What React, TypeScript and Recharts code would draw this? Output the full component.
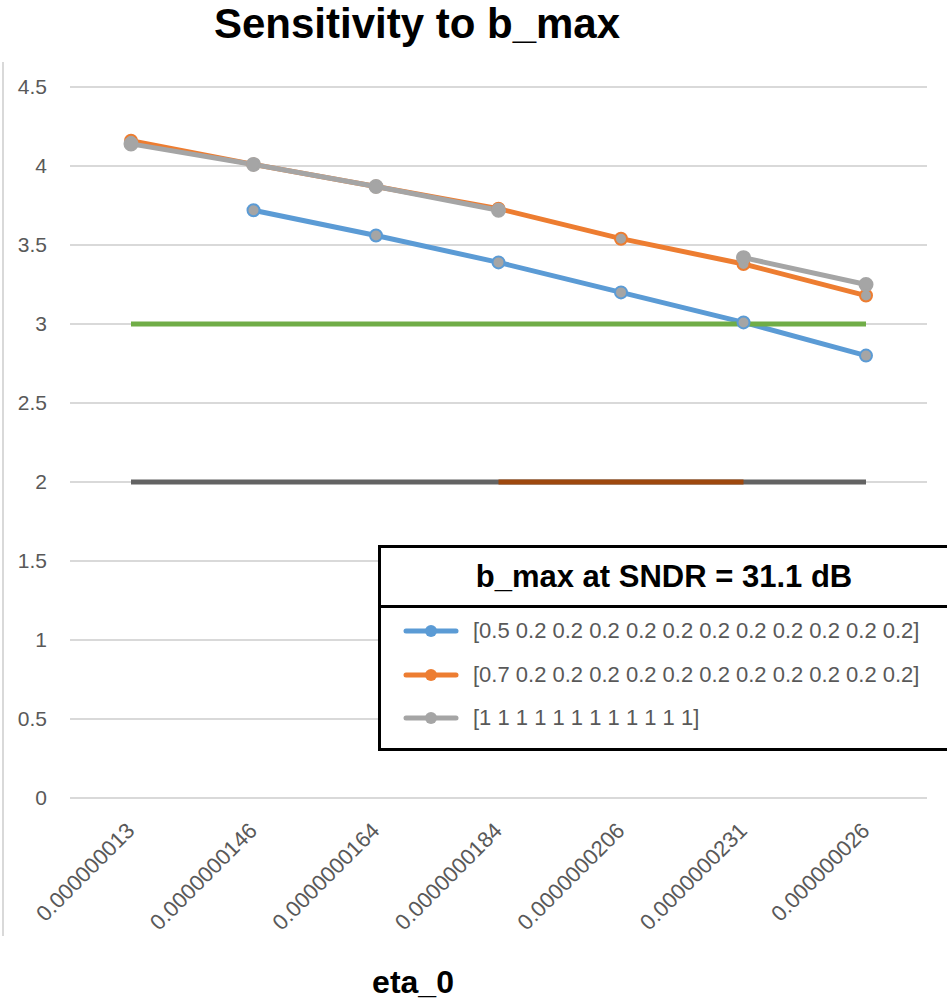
import { CartesianGrid, Line, LineChart, XAxis, YAxis } from "recharts";

const ETA = [
  "0.000000013",
  "0.0000000146",
  "0.0000000164",
  "0.0000000184",
  "0.0000000206",
  "0.0000000231",
  "0.000000026",
];
const B_05 = [null, 3.72, 3.56, 3.39, 3.2, 3.01, 2.8];
const B_07 = [4.16, 4.01, 3.87, 3.73, 3.54, 3.38, 3.18];
const B_1 = [4.14, 4.01, 3.87, 3.72, null, 3.42, 3.25];
const TARGET = [3, 3, 3, 3, 3, 3, 3];
const FLOOR = [2, 2, 2, 2, 2, 2, 2];
const FLOOR_MID = [null, null, null, 2, 2, 2, null];
const Y_TICKS = [0, 0.5, 1, 1.5, 2, 2.5, 3, 3.5, 4, 4.5];
const LEGEND = [
  "[0.5 0.2 0.2 0.2 0.2 0.2 0.2 0.2 0.2 0.2 0.2 0.2]",
  "[0.7 0.2 0.2 0.2 0.2 0.2 0.2 0.2 0.2 0.2 0.2 0.2]",
  "[1 1 1 1 1 1 1 1 1 1 1 1]",
];

const BLUE = "#5b9bd5";
const ORANGE = "#ed7d31";
const GRAY = "#a5a5a5";
const GREEN = "#70ad47";
const DARK = "#636363";
const BROWN = "#9e480e";
const TEXT = "#595959";
const FONT = "'Liberation Sans', Arial, sans-serif";

const data = ETA.map((eta, i) => ({
  eta,
  b05: B_05[i],
  b07: B_07[i],
  b1: B_1[i],
  target: TARGET[i],
  floor: FLOOR[i],
  floorMid: FLOOR_MID[i],
}));

function AngledTick(props: any) {
  const { x, y, payload } = props;
  return (
    <g transform={`translate(${x + 5},${y + 32})`}>
      <text
        textAnchor="end"
        transform="rotate(-45)"
        fill={TEXT}
        fontSize={22}
        fontFamily={FONT}
      >
        {payload.value}
      </text>
    </g>
  );
}

function Swatch({ color }: { color: string }) {
  return (
    <svg width={56} height={16} style={{ display: "block" }}>
      <line x1={3} y1={8} x2={53} y2={8} stroke={color} strokeWidth={5} strokeLinecap="round" />
      <circle cx={28} cy={8} r={6} fill={color} />
    </svg>
  );
}

export default function App() {
  const colors = [BLUE, ORANGE, GRAY];
  return (
    <div
      style={{
        position: "absolute",
        left: 0,
        top: 0,
        width: 947,
        height: 1004,
        background: "#fff",
        fontFamily: FONT,
        overflow: "hidden",
      }}
    >
      <div
        style={{
          position: "absolute",
          left: 2,
          top: 62,
          width: 2,
          height: 874,
          background: "#d9d9d9",
        }}
      />
      <div
        style={{
          position: "absolute",
          left: 0,
          width: 834,
          top: 0,
          textAlign: "center",
          fontSize: 42,
          fontWeight: "bold",
          color: "#000",
        }}
      >
        Sensitivity to b_max
      </div>

      <LineChart
        width={947}
        height={1004}
        data={data}
        margin={{ top: 87, right: 20, left: 10, bottom: 0 }}
      >
        <CartesianGrid stroke="#d9d9d9" strokeWidth={2} vertical={false} />
        <XAxis
          dataKey="eta"
          height={206}
          padding={{ left: 61, right: 61 }}
          axisLine={false}
          tickLine={false}
          tickSize={0}
          interval={0}
          tick={<AngledTick />}
        />
        <YAxis
          width={60}
          domain={[0, 4.5]}
          ticks={Y_TICKS}
          axisLine={false}
          tickLine={false}
          tickSize={0}
          tickMargin={23}
          tick={{ fontSize: 21, fill: TEXT, fontFamily: FONT }}
        />
        <Line
          dataKey="b05"
          stroke={BLUE}
          strokeWidth={5}
          dot={{ r: 6, fill: GRAY, stroke: BLUE, strokeWidth: 2 }}
          isAnimationActive={false}
        />
        <Line
          dataKey="b07"
          stroke={ORANGE}
          strokeWidth={5}
          dot={{ r: 6, fill: GRAY, stroke: ORANGE, strokeWidth: 2 }}
          isAnimationActive={false}
        />
        <Line
          dataKey="b1"
          stroke={GRAY}
          strokeWidth={5}
          dot={{ r: 6.5, fill: GRAY, stroke: GRAY, strokeWidth: 2 }}
          isAnimationActive={false}
        />
        <Line
          dataKey="target"
          stroke={GREEN}
          strokeWidth={5}
          dot={false}
          isAnimationActive={false}
        />
        <Line
          dataKey="floor"
          stroke={DARK}
          strokeWidth={5}
          dot={false}
          isAnimationActive={false}
        />
        <Line
          dataKey="floorMid"
          stroke={BROWN}
          strokeWidth={5}
          dot={false}
          isAnimationActive={false}
        />
      </LineChart>

      <div
        style={{
          position: "absolute",
          left: 0,
          width: 826,
          top: 966,
          lineHeight: 1,
          textAlign: "center",
          fontSize: 32,
          fontWeight: "bold",
          color: "#000",
        }}
      >
        eta_0
      </div>

      <div
        style={{
          position: "absolute",
          left: 378,
          top: 545,
          width: 566,
          height: 200,
          border: "3px solid #000",
          background: "#fff",
        }}
      >
        <div
          style={{
            height: 57,
            borderBottom: "3px solid #000",
            display: "flex",
            alignItems: "center",
            justifyContent: "center",
            fontSize: 31,
            fontWeight: "bold",
            color: "#000",
          }}
        >
          b_max at SNDR = 31.1 dB
        </div>
        {LEGEND.map((label, i) => (
          <div
            key={label}
            style={{
              position: "absolute",
              left: 22,
              top: 70 + i * 43.5,
              display: "flex",
              alignItems: "center",
              gap: 14,
              fontSize: 22,
              color: TEXT,
              whiteSpace: "nowrap",
            }}
          >
            <Swatch color={colors[i]} />
            <span>{label}</span>
          </div>
        ))}
      </div>
    </div>
  );
}
